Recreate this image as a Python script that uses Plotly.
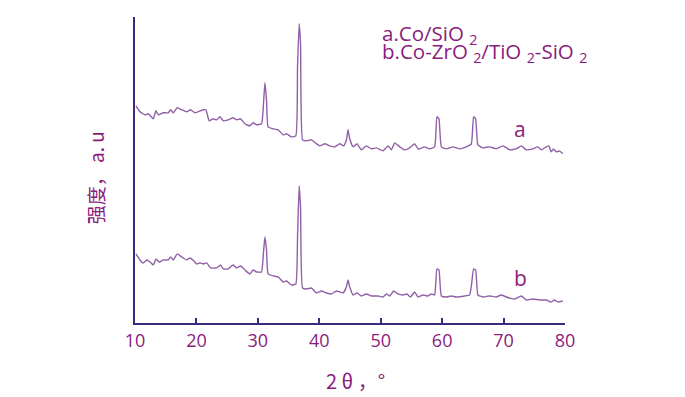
import plotly.graph_objects as go

# 2θ (degrees) and intensity (a.u., arbitrary offset units)
two_theta_a = [10.16, 10.81, 11.63, 12.16, 12.98, 13.41, 13.79, 14.60, 15.41, 15.80, 16.23, 16.88,
               17.59, 18.41, 19.06, 19.76, 21.11, 21.54, 22.08, 22.73, 23.28, 23.82, 24.36, 25.17,
               25.98, 26.54, 27.19, 27.89, 28.70, 29.24, 29.79, 30.60, 30.86, 31.14, 31.41, 31.67,
               32.49, 33.30, 34.11, 34.67, 35.48, 36.18, 36.46, 36.72, 36.95, 37.28, 37.92, 38.73,
               39.55, 40.08, 40.89, 41.71, 42.52, 43.33, 43.98, 44.42, 44.68, 44.96, 45.50, 46.15,
               46.86, 47.67, 48.49, 49.30, 50.37, 51.19, 51.74, 52.28, 53.09, 53.90, 54.72, 55.53,
               56.07, 56.34, 57.15, 57.97, 58.78, 59.15, 59.48, 59.87, 60.68, 61.76, 62.85, 63.93,
               64.75, 65.12, 65.45, 65.82, 66.63, 67.72, 68.81, 69.89, 70.98, 72.07, 72.88, 73.69,
               74.76, 75.58, 76.13, 76.94, 77.37, 77.76, 78.14, 78.57, 79.11, 79.64]
intensity_a = [217, 211, 208, 209, 204, 212, 208, 210, 210, 213, 210, 215,
               213, 211, 213, 210, 213, 213, 202, 204, 203, 206, 202, 203,
               205, 203, 204, 199, 197, 200, 198, 199, 213, 240, 223, 196,
               194, 193, 188, 189, 186, 187, 256, 299, 279, 183, 182, 183,
               179, 177, 179, 177, 176, 179, 177, 183, 193, 184, 176, 179,
               173, 177, 174, 175, 172, 177, 173, 180, 176, 173, 175, 179,
               174, 174, 176, 174, 176, 206, 204, 176, 174, 176, 174, 176,
               179, 206, 204, 178, 175, 176, 174, 177, 173, 174, 177, 173,
               174, 176, 173, 176, 177, 171, 174, 171, 172, 169]

two_theta_b = [10.16, 10.81, 11.35, 11.90, 12.44, 12.98, 13.41, 13.95, 14.60, 15.41, 15.80, 16.23,
               16.88, 17.59, 18.41, 18.94, 19.59, 20.03, 20.57, 21.11, 21.66, 22.31, 23.28, 23.93,
               24.36, 25.17, 25.98, 26.54, 27.19, 27.89, 28.70, 29.24, 29.79, 30.60, 30.86, 31.14,
               31.41, 31.67, 32.49, 33.30, 34.11, 34.67, 35.48, 36.18, 36.46, 36.72, 36.95, 37.28,
               37.92, 38.73, 39.55, 40.36, 41.17, 41.99, 42.80, 43.87, 44.42, 44.68, 44.96, 45.50,
               46.15, 46.86, 47.67, 48.49, 49.56, 50.37, 50.93, 51.46, 52.11, 52.81, 53.63, 54.28,
               54.83, 55.53, 56.07, 56.88, 57.69, 58.24, 58.78, 59.15, 59.48, 59.87, 60.68, 61.50,
               62.31, 63.66, 64.47, 64.80, 65.12, 65.45, 65.82, 66.63, 67.72, 68.81, 69.63, 70.44,
               71.79, 72.88, 73.69, 74.76, 75.85, 76.94, 77.76, 78.29, 78.83, 79.64]
intensity_b = [69, 63, 60, 63, 61, 58, 64, 61, 63, 63, 66, 63,
               69, 66, 63, 65, 62, 59, 60, 59, 60, 55, 55, 58,
               54, 54, 58, 55, 57, 53, 49, 53, 51, 51, 66, 86,
               73, 49, 47, 46, 41, 42, 38, 39, 86, 137, 116, 35,
               34, 35, 30, 32, 30, 29, 32, 30, 36, 43, 36, 28,
               30, 27, 29, 27, 27, 26, 29, 27, 32, 29, 28, 29,
               26, 31, 26, 28, 27, 29, 28, 54, 53, 27, 26, 27,
               26, 27, 28, 39, 54, 53, 28, 26, 27, 26, 28, 26,
               24, 27, 23, 24, 23, 23, 21, 23, 21, 22]

x_ticks = [10, 20, 30, 40, 50, 60, 70, 80]

TEXT = "#8a1c7c"
AXIS = "#3b2a80"
LINE = "#9060a6"

# plot area in page pixels (page body has an 8px margin)
PX0, PX1, PY0, PY1 = 135, 565.5, 17, 322.7
OFF = 8
W, H = 685 - OFF, 397 - OFF


def px(x):
    return (x - PX0) / (PX1 - PX0)


def py(y):
    return (PY1 - y) / (PY1 - PY0)


fig = go.Figure()
fig.add_trace(go.Scatter(x=two_theta_a, y=intensity_a, mode="lines",
                         line=dict(color=LINE, width=1.4, shape="spline", smoothing=0.4),
                         showlegend=False))
fig.add_trace(go.Scatter(x=two_theta_b, y=intensity_b, mode="lines",
                         line=dict(color=LINE, width=1.4, shape="spline", smoothing=0.4),
                         showlegend=False))

fig.update_layout(
    width=W, height=H,
    margin=dict(l=PX0 - OFF, r=W - (PX1 - OFF), t=PY0 - OFF, b=H - (PY1 - OFF), pad=0),
    paper_bgcolor="white", plot_bgcolor="white",
    xaxis=dict(range=[10, 80], tickvals=x_ticks, ticks="inside", ticklen=5, tickwidth=2,
               tickcolor=AXIS, showline=True, linecolor=AXIS, linewidth=2,
               showgrid=False, zeroline=False,
               tickfont=dict(family="Open Sans", size=18, color=TEXT)),
    yaxis=dict(range=[0, PY1 - PY0], showticklabels=False, ticks="", showline=True,
               linecolor=AXIS, linewidth=2, showgrid=False, zeroline=False),
)

legend_lines = [
    ("a.Co/SiO <sub>2</sub>", 34),
    ("b.Co-ZrO <sub>2</sub>/TiO <sub>2</sub>-SiO <sub>2</sub>", 52),
]
for txt, yc in legend_lines:
    fig.add_annotation(text=txt, xref="paper", yref="paper",
                       x=px(380), y=py(yc), xanchor="left", yanchor="middle",
                       showarrow=False, font=dict(family="Open Sans", size=20.5, color=TEXT))

fig.add_annotation(text="a", x=72.6, y=194, xref="x", yref="y", showarrow=False,
                   font=dict(family="Open Sans", size=21, color=TEXT))
fig.add_annotation(text="b", x=72.8, y=45, xref="x", yref="y", showarrow=False,
                   font=dict(family="Open Sans", size=21, color=TEXT))

fig.add_annotation(text="2 θ ，°", xref="paper", yref="paper",
                   x=px(356), y=py(380), xanchor="center", yanchor="middle", showarrow=False,
                   font=dict(family="Noto Sans CJK SC", size=20, color=TEXT))
fig.add_annotation(text="强度， a. u", xref="paper", yref="paper",
                   x=px(95), y=py(178), xanchor="center", yanchor="middle",
                   showarrow=False, textangle=-90,
                   font=dict(family="Noto Sans CJK SC", size=19, color=TEXT))

fig.write_html("out.html")
